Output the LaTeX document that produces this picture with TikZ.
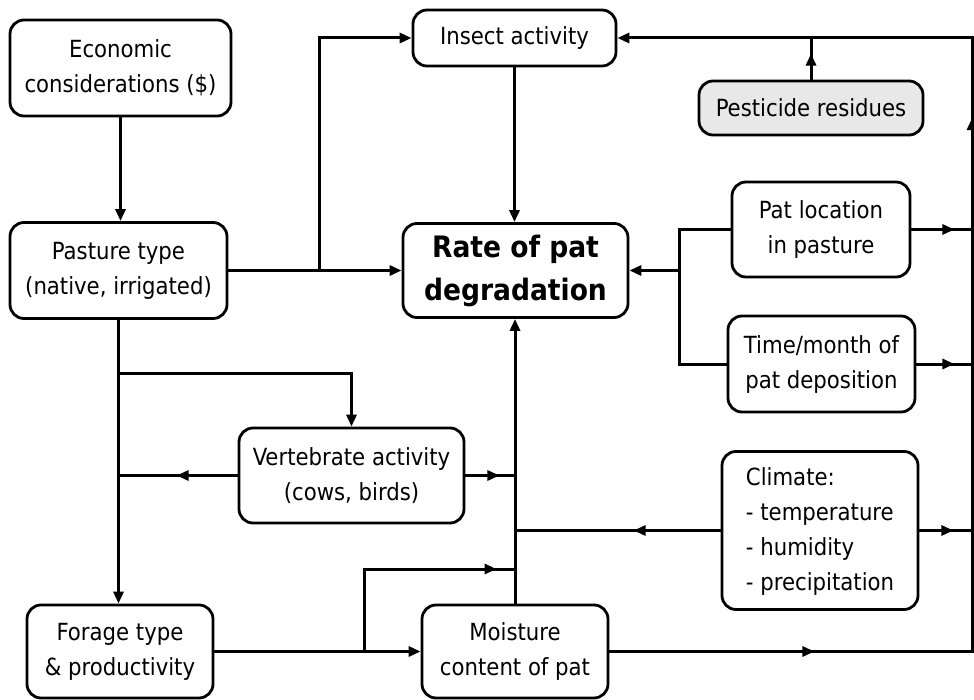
\documentclass[tikz,border=0pt]{standalone}
\usepackage{fontspec}
\setmainfont{DejaVu Sans Condensed}
\usetikzlibrary{arrows.meta,decorations.markings}
\begin{document}
\begin{tikzpicture}[x=1pt,y=-1pt,
  box/.style={draw, line width=2.8pt, rounded corners=14pt, align=center, inner sep=0pt,
    font=\fontsize{23.6}{35}\selectfont},
  conn/.style={line width=3pt},
  arr/.style={conn, -{Triangle[length=12pt,width=10pt]}},
  midarr/.style={postaction={decorate}, decoration={markings,
    mark=at position #1 with {\arrow{Triangle[length=12pt,width=10pt]}}}}
]
\useasboundingbox (0,0) rectangle (974,700);

\node[box, minimum width=221, minimum height=96] (eco) at (120.5,68) {Economic\\considerations (\$)};
\node[box, minimum width=203, minimum height=56] (ins) at (514.5,38) {Insect activity};
\node[box, minimum width=224, minimum height=54, fill=black!9] (pest) at (811,108) {Pesticide residues};
\node[box, minimum width=217, minimum height=96] (past) at (118.5,270.5) {Pasture type\\(native, irrigated)};
\node[box, minimum width=225, minimum height=94, font=\bfseries\fontsize{29.5}{43}\selectfont] (rate) at (515.5,270.5) {Rate of pat\\degradation};
\node[box, minimum width=178, minimum height=95] (pat) at (821,229.5) {Pat location\\in pasture};
\node[box, minimum width=187, minimum height=96] (time) at (821.5,364) {Time/month of\\pat deposition};
\node[box, minimum width=225, minimum height=95] (vert) at (351.5,475.5) {Vertebrate activity\\(cows, birds)};
\node[box, minimum width=196, minimum height=158] (clim) at (820,530.5) {\begin{tabular}{@{}l@{}}Climate:\\- temperature\\- humidity\\- precipitation\end{tabular}};
\node[box, minimum width=186, minimum height=93] (forage) at (120,651.5) {Forage type\\\& productivity};
\node[box, minimum width=186, minimum height=93] (moist) at (515,651.5) {Moisture\\content of pat};

\coordinate (rtop) at (972,38);
\coordinate (rbot) at (972,651.5);
\coordinate (j1) at (319,270.5);
\coordinate (jr) at (679,270.5);
\coordinate (jv) at (119,373);
\coordinate (jf) at (364,651.5);
\coordinate (cx) at (515,569);
\coordinate (ptop) at (811,38);

\draw[arr] (eco.south) -- (eco.south |- past.north);
\draw[arr] (past.east) -- (rate.west);
\draw[arr] (j1) |- (ins.west);
\draw[arr] (ins.south) -- (ins.south |- rate.north);
\draw[arr, postaction={decorate}, decoration={markings,
    mark=at position 205pt with {\arrow{Triangle[length=12pt,width=10pt]}},
    mark=at position 896pt with {\arrow{Triangle[length=12pt,width=10pt]}}}]
  (moist.east) -- (rbot) -- (rtop) -- (ins.east);
\draw[conn, midarr=26pt] (pest.north) -- (ptop);
\draw[conn, midarr=43pt] (pat.east) -- (pat.east -| rtop);
\draw[conn, midarr=38pt] (time.east) -- (time.east -| rtop);
\draw[conn, midarr=34pt] (clim.east) -- (clim.east -| rtop);
\draw[arr] (jr) -- (rate.east);
\draw[conn] (pat.west) -- (pat.west -| jr) -- (time.west -| jr) -- (time.west);
\draw[arr] (past.south) -- (past.south |- forage.north);
\draw[arr] (jv) -| (vert.north);
\draw[conn, midarr=61pt] (vert.west) -- (vert.west -| jv);
\draw[conn, midarr=34pt] (vert.east) -- (vert.east -| cx);
\draw[arr] (moist.north) -- (moist.north |- rate.south);
\draw[conn, midarr=87pt] (clim.west) -- (clim.west -| cx);
\draw[arr] (forage.east) -- (moist.west);
\draw[conn, midarr=215pt] (jf) |- (cx);
\end{tikzpicture}
\end{document}
